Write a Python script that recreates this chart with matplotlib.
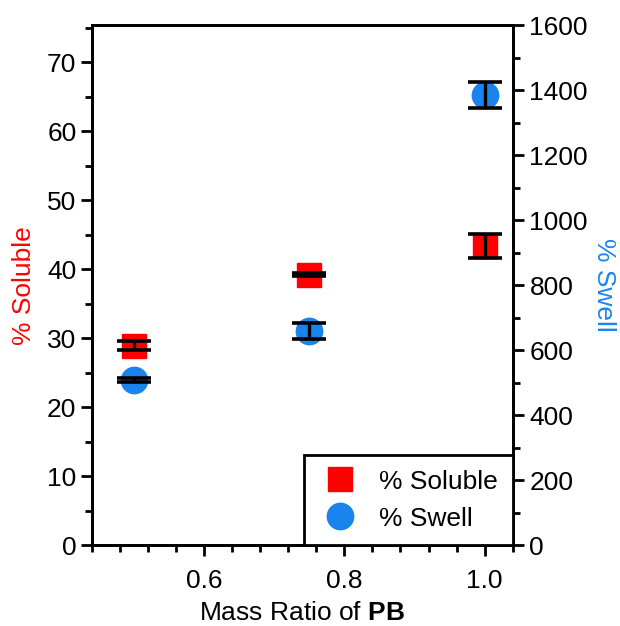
import matplotlib
matplotlib.use("Agg")
import matplotlib.pyplot as plt
from matplotlib.lines import Line2D
from matplotlib.ticker import MultipleLocator

plt.rcParams['font.family'] = ['Liberation Sans', 'DejaVu Sans']
plt.rcParams['mathtext.fontset'] = 'custom'
plt.rcParams['mathtext.rm'] = 'Liberation Sans'
plt.rcParams['mathtext.bf'] = 'Liberation Sans:bold'

# data
mass_ratio = [0.5, 0.75, 1.0]
soluble = [28.9, 39.2, 43.4]
soluble_err = [0.65, 0.2, 1.7]
swell = [508, 660, 1386]
swell_err = [5, 25, 40]

red = '#ff0000'
blue = '#1a84ee'
fs = 19

fig = plt.figure(figsize=(6.2, 6.26), dpi=100)
ax = fig.add_axes([0.148, 0.129, 0.679, 0.831])
ax2 = ax.twinx()

# markers first, error bars drawn on top of them (as in the original)
ax.plot(mass_ratio, soluble, 's', color=red, ms=17.5, zorder=3)
ax.errorbar(mass_ratio, soluble, yerr=soluble_err, fmt='none', ecolor='black',
            elinewidth=2.4, capsize=12.5, capthick=2.6, zorder=4)
ax2.plot(mass_ratio, swell, 'o', color=blue, ms=19, zorder=3)
ax2.errorbar(mass_ratio, swell, yerr=swell_err, fmt='none', ecolor='black',
             elinewidth=2.4, capsize=12.5, capthick=2.6, zorder=4)

ax.set_xlim(0.44, 1.04)
ax.set_ylim(0, 75.4)
ax2.set_ylim(0, 1600)

ax.xaxis.set_major_locator(MultipleLocator(0.2))
ax.xaxis.set_minor_locator(MultipleLocator(0.04))
ax.yaxis.set_major_locator(MultipleLocator(10))
ax.yaxis.set_minor_locator(MultipleLocator(5))
ax2.yaxis.set_major_locator(MultipleLocator(200))
ax2.yaxis.set_minor_locator(MultipleLocator(100))

for a in (ax, ax2):
    for s in a.spines.values():
        s.set_linewidth(2)
    a.tick_params(which='major', length=8, width=2, labelsize=fs, direction='out')
    a.tick_params(which='minor', length=5, width=2, direction='out')
ax.tick_params(axis='x', pad=9)
ax.tick_params(axis='y', pad=3)
ax2.tick_params(axis='y', pad=4)

ax.set_xlabel('Mass Ratio of $\\mathbf{PB}$', fontsize=fs, labelpad=6)
ax.set_ylabel('% Soluble', fontsize=fs, color=red, labelpad=8)
ax2.set_ylabel('% Swell', fontsize=fs, color=blue, rotation=270, labelpad=20)

handles = [Line2D([], [], marker='s', ls='none', color=red, ms=17.5),
           Line2D([], [], marker='o', ls='none', color=blue, ms=19)]
leg = ax2.legend(handles, ['% Soluble', '% Swell'], loc='lower right', fontsize=fs,
                 borderaxespad=0, fancybox=False, framealpha=1, edgecolor='black',
                 handletextpad=0.7, borderpad=0.55, labelspacing=0.5, handlelength=1.6)
leg.get_frame().set_linewidth(2)

fig.savefig('out.png', dpi=100)
